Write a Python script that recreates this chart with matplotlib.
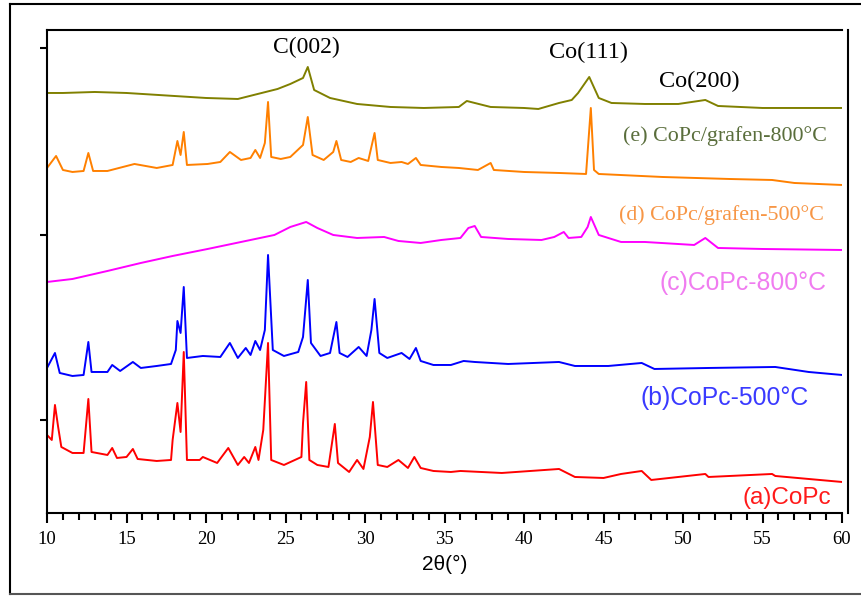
import matplotlib
matplotlib.use('Agg')
import matplotlib.pyplot as plt
from matplotlib.lines import Line2D
from matplotlib.ticker import MultipleLocator

# intensities (arbitrary units, offsets included)

# (a) CoPc
a_tt = [10.0, 10.3, 10.5, 10.7, 10.9, 11.6, 12.3, 12.6, 12.8, 13.8, 14.1, 14.4, 15.0, 15.4, 15.7,
        16.9, 17.8, 17.9, 18.2, 18.4, 18.6, 18.8, 19.6, 19.8, 20.7, 21.4, 22.0, 22.4, 22.7, 23.1,
        23.3, 23.6, 23.9, 24.1, 24.9, 26.0, 26.1, 26.3, 26.5, 27.0, 27.7, 28.1, 28.3, 29.0, 29.5,
        29.9, 30.3, 30.5, 30.8, 31.4, 32.1, 32.7, 33.1, 33.5, 34.3, 35.4, 36.0, 37.3, 38.6, 42.2,
        43.2, 45.0, 46.1, 47.4, 48.0, 51.4, 51.6, 55.6, 55.8, 60.0]
a_int = [78, 73, 108, 86, 66, 60, 60, 114, 61, 58, 65, 55, 56, 64, 54,
         52, 53, 73, 110, 81, 161, 53, 53, 56, 50, 65, 48, 56, 50, 66,
         53, 83, 170, 53, 48, 56, 90, 131, 53, 48, 46, 89, 50, 41, 53,
         44, 76, 111, 48, 46, 53, 45, 56, 45, 42, 41, 42, 41, 40, 44,
         36, 35, 39, 42, 33, 39, 36, 39, 37, 31]

# (b) CoPc-500°C
b_tt = [10.0, 10.5, 10.8, 11.6, 12.3, 12.6, 12.8, 13.8, 14.1, 14.6, 15.4, 15.9, 16.9, 17.8, 18.1,
        18.2, 18.4, 18.6, 18.8, 19.8, 20.9, 21.5, 22.0, 22.5, 22.8, 23.1, 23.4, 23.7, 23.9, 24.2,
        24.9, 25.8, 26.1, 26.4, 26.6, 27.2, 27.8, 28.2, 28.4, 28.9, 29.6, 30.1, 30.4, 30.6, 30.9,
        31.4, 32.3, 32.8, 33.2, 33.5, 34.3, 35.4, 36.2, 36.9, 39.0, 42.2, 43.2, 45.3, 47.4, 48.2,
        51.6, 55.8, 57.9, 60.0]
b_int = [145, 160, 140, 137, 138, 171, 141, 141, 148, 142, 151, 145, 147, 149, 163,
         192, 180, 226, 155, 157, 156, 170, 155, 165, 158, 172, 163, 183, 258, 163,
         157, 161, 176, 233, 170, 157, 160, 191, 160, 156, 166, 157, 183, 214, 160,
         155, 160, 154, 165, 152, 148, 148, 152, 151, 149, 151, 147, 147, 150, 144,
         145, 146, 141, 138]

# (c) CoPc-800°C
c_tt = [10.0, 11.6, 13.8, 15.9, 17.9, 20.1, 22.2, 24.3, 25.3, 26.3, 27.0, 28.0, 29.5, 31.2, 32.1,
        33.5, 34.8, 36.0, 36.5, 36.9, 37.3, 39.0, 41.1, 41.9, 42.5, 42.8, 43.6, 44.0, 44.2, 44.7,
        46.1, 47.6, 50.7, 51.4, 52.2, 55.0, 60.0]
c_int = [231, 234, 242, 250, 257, 264, 271, 278, 286, 291, 285, 278, 275, 276, 272,
         270, 273, 275, 285, 287, 276, 274, 273, 276, 281, 275, 276, 286, 296, 278,
         271, 271, 268, 275, 265, 264, 263]

# (d) CoPc/grafen-500°C
d_tt = [10.0, 10.57, 11.0, 11.6, 12.3, 12.6, 12.9, 13.8, 15.5, 16.9, 17.9, 18.2, 18.4, 18.6, 18.8,
        20.1, 20.9, 21.5, 22.2, 22.8, 23.1, 23.4, 23.7, 23.9, 24.1, 24.7, 25.3, 26.1, 26.4, 26.7,
        27.4, 28.0, 28.2, 28.5, 29.1, 29.6, 30.2, 30.6, 30.8, 31.6, 32.3, 32.7, 33.2, 33.5, 34.8,
        35.9, 37.1, 37.9, 38.1, 40.0, 42.2, 43.9, 44.2, 44.4, 44.7, 48.7, 52.9, 55.6, 57.0, 60.0]
d_int = [345, 357, 343, 341, 342, 360, 342, 342, 349, 345, 348, 372, 358, 381, 348,
         349, 351, 361, 353, 355, 363, 355, 370, 411, 356, 354, 356, 368, 396, 358,
         353, 361, 372, 353, 351, 355, 352, 380, 353, 350, 351, 349, 355, 348, 346,
         345, 343, 350, 343, 341, 340, 339, 405, 343, 339, 336, 334, 333, 330, 328]

# (e) CoPc/grafen-800°C
e_tt = [10.0, 11.0, 13.0, 15.0, 17.0, 19.0, 20.0, 22.0, 23.5, 24.5, 25.3, 26.1, 26.4, 26.8, 27.8,
        29.5, 31.6, 33.7, 35.9, 36.4, 37.9, 40.0, 40.9, 42.2, 43.0, 43.4, 44.1, 44.7, 45.5, 47.6,
        49.7, 51.4, 52.2, 55.0, 57.0, 60.0]
e_int = [420, 420, 421, 420, 418, 416, 415, 414, 420, 424, 429, 435, 446, 423, 415,
         409, 406, 405, 406, 412, 406, 405, 404, 410, 413, 420, 436, 415, 410, 409,
         409, 413, 407, 405, 405, 405]

series = [
    (a_tt, a_int, '#ff0000'),
    (b_tt, b_int, '#0000ff'),
    (c_tt, c_int, '#ff00ff'),
    (d_tt, d_int, '#ff8000'),
    (e_tt, e_int, '#808000'),
]

plt.rcParams['font.family'] = ['Liberation Serif', 'DejaVu Serif']
SANS = ['Liberation Sans', 'DejaVu Sans']

fig = plt.figure(figsize=(8.61, 5.96), dpi=100)
ax = fig.add_axes([0.0546, 0.1393, 0.9234, 0.8104])

for tt, inten, col in series:
    ax.plot(tt, inten, color=col, lw=1.4)

ax.set_xlim(10, 60)
ax.set_ylim(0, 483)
ax.xaxis.set_major_locator(MultipleLocator(5))
ax.xaxis.set_minor_locator(MultipleLocator(1))
ax.set_yticks([93, 278, 465])
ax.set_yticklabels([])
ax.tick_params(axis='x', which='major', direction='out', length=7, width=1.5, labelsize=13.5, pad=6)
ax.tick_params(axis='x', which='minor', direction='out', length=5, width=1.5)
ax.tick_params(axis='y', direction='out', length=5, width=1.5)
ax.spines['right'].set_visible(False)
for s in ['left', 'bottom', 'top']:
    ax.spines[s].set_linewidth(1.5)

ax.set_xlabel('2θ(°)', family=SANS, fontsize=15, labelpad=5)

# peak annotations
ax.text(26.3, 466, 'C(002)', ha='center', va='center', fontsize=17)
ax.text(44.05, 461, 'Co(111)', ha='center', va='center', fontsize=17.5)
ax.text(51.0, 432, 'Co(200)', ha='center', va='center', fontsize=17.5)

# sample labels
ax.text(59.05, 377, '(e) CoPc/grafen-800°C', ha='right', va='center', fontsize=15.8, color='#5a6e3c')
ax.text(58.87, 298, '(d) CoPc/grafen-500°C', ha='right', va='center', fontsize=15.8, color='#f79646')
ax.text(59.0, 230, '(c)CoPc-800°C', ha='right', va='center', fontsize=17.8, color='#f07cf0', family=SANS)
ax.text(57.9, 115, '(b)CoPc-500°C', ha='right', va='center', fontsize=17.8, color='#3a3aff', family=SANS)
ax.text(59.3, 15, '(a)CoPc', ha='right', va='center', fontsize=17.5, color='#ff1a1a', family=SANS)

# right border line and outer frame
fig.add_artist(Line2D([0.985, 0.985], [0.1393, 0.9497], transform=fig.transFigure, color='black', lw=1.5))
fig.add_artist(Line2D([0.0116, 0.0116], [0.003, 0.9933], transform=fig.transFigure, color='black', lw=1.5))
fig.add_artist(Line2D([0.0116, 1.0], [0.9933, 0.9933], transform=fig.transFigure, color='black', lw=1.5))
fig.add_artist(Line2D([0.0116, 1.0], [0.003, 0.003], transform=fig.transFigure, color='#555555', lw=1.5))

fig.savefig('out.png', dpi=100)
